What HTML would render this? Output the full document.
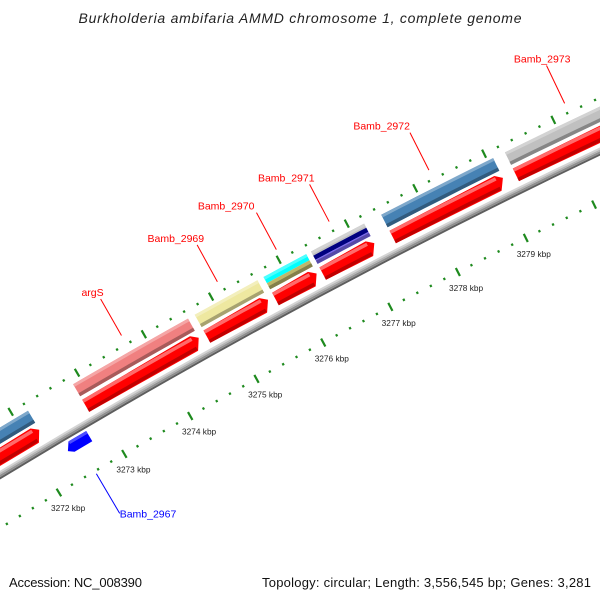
<!DOCTYPE html>
<html><head><meta charset="utf-8"><style>
html,body{margin:0;padding:0;background:#fff;width:600px;height:600px;overflow:hidden}
svg{display:block}
text{font-family:"Liberation Sans",sans-serif}
</style></head><body>
<svg id="chart" xmlns="http://www.w3.org/2000/svg" width="600" height="600" viewBox="0 0 600 600" overflow="hidden">
<rect width="600" height="600" fill="#fff"/>
<g id="plot"></g>
<text x="300" y="23" text-anchor="middle" font-size="14" font-style="italic" fill="#222" textLength="443">Burkholderia ambifaria AMMD chromosome 1, complete genome</text>
<text x="9" y="587" font-size="13" fill="#111" textLength="133">Accession: NC_008390</text>
<text x="591" y="587" font-size="13" text-anchor="end" fill="#111" textLength="329">Topology: circular; Length: 3,556,545 bp; Genes: 3,281</text>
</svg>
<script>
// ---- data ----
const tickKbp = [3272, 3273, 3274, 3275, 3276, 3277, 3278, 3279];
const tickLabels = ["3272 kbp","3273 kbp","3274 kbp","3275 kbp","3276 kbp","3277 kbp","3278 kbp","3279 kbp"];
const scaleRange = [3270, 3281];
const geneNames = ["Bamb_2966","Bamb_2967","argS","Bamb_2969","Bamb_2970","Bamb_2971","Bamb_2972","Bamb_2973"];
const geneStarts = [3270.3, 3272.38, 3272.88, 3274.7, 3275.72, 3276.42, 3277.45, 3279.25];
const geneEnds = [3272.2, 3272.72, 3274.6, 3275.63, 3276.35, 3277.2, 3279.08, 3281.2];
const geneStrands = [1, -1, 1, 1, 1, 1, 1, 1];
const geneLabelShown = [false, true, true, true, true, true, true, true];

// ---- styles (not data) ----
const geneColors = [["#4682b4"],["#0000ff"],["#f08080"],["#eee8a0"],["#00ffff","#bdb76b"],["#c0c0c0","#000080","#7b68ee"],["#4682b4"],["#c0c0c0"]];
const labelDx = [0, 0, 3, 7, -2, 5, 0, 24];

// ---- axis (circular map) ----
const CX = 3521, CY = 6287, R0 = 6750, K0 = 3275.5, A0 = -118.6, DEG_PER_KBP = 0.645;
function theta(k){ return (A0 + (k - K0) * DEG_PER_KBP) * Math.PI / 180; }
function pos(k, r){ const t = theta(k); return [CX + (R0 + r) * Math.cos(t), CY + (R0 + r) * Math.sin(t)]; }
const NS = "http://www.w3.org/2000/svg";
const plot = document.getElementById("plot");
function mk(tag, attrs, parent){ const e = document.createElementNS(NS, tag); for (const a in attrs) e.setAttribute(a, attrs[a]); (parent || plot).appendChild(e); return e; }
function shade(hex, f){ let n = parseInt(hex.slice(1), 16); let c = [(n>>16)&255, (n>>8)&255, n&255];
  c = c.map(v => f > 0 ? Math.round(v + (255 - v) * f) : Math.round(v * (1 + f))); return "rgb(" + c.join(",") + ")"; }
function pts(list){ return list.map(p => p[0].toFixed(1) + "," + p[1].toFixed(1)).join(" "); }
function band(k1, k2, r1, r2){ const a = [], n = 6; for (let i = 0; i <= n; i++) a.push(pos(k1 + (k2 - k1) * i / n, r2)); for (let i = n; i >= 0; i--) a.push(pos(k1 + (k2 - k1) * i / n, r1)); return a; }

// backbone
const bb = [["#5e5e5e", 42.5], ["#8f8f8f", 44.5], ["#b4b4b4", 46.5], ["#d4d4d4", 48]];
bb.forEach(b => {
  const c = mk("circle", {cx: CX, cy: CY, r: R0 + b[1], fill: "none", stroke: b[0], "stroke-width": 2});
  
  
});

// ticks (lower scale track at r=0, upper track at r=94)
const TRACKS = [0, 94];
const kMin = scaleRange[0], kMax = scaleRange[1];
TRACKS.forEach(tr => {
  for (let i = 0; i <= (kMax - kMin) * 5; i++) {
    const k = kMin + i * 0.2;
    const major = i % 5 === 0;
    const h = major ? 4.5 : 1.2;
    const p1 = pos(k, tr - h), p2 = pos(k, tr + h);
    const l = mk("line", {x1: p1[0], y1: p1[1], x2: p2[0], y2: p2[1], stroke: "#1e8a1e", "stroke-width": 2.2});
    
    
  }
});
tickKbp.forEach((k, i) => {
  const p = pos(k, -18);
  const t = mk("text", {x: p[0], y: p[1] + 3, "text-anchor": "middle", "font-size": "8.3", fill: "#222"});
  t.textContent = tickLabels[i];
  
  
});

// genes
geneNames.forEach((name, i) => {
  const k1 = geneStarts[i], k2 = geneEnds[i], cols = geneColors[i];
  const g = mk("g", {});
  
  
  if (geneStrands[i] > 0) {
    const r1 = 54, r2 = 68, hd = 0.09;
    const red = mk("polygon", {points: pts([pos(k1, r1), pos(k1, r2), pos(k2 - hd, r2 + 1.5), pos(k2, (r1 + r2) / 2 + 3), pos(k2 - hd, r1 - 1)]), fill: "#ff0000"}, g);
    
    
    const hi = mk("polygon", {points: pts(band(k1, k2 - hd, r2 - 3.5, r2)), fill: "#ff6a6a"}, g);
    
    
    const lo = mk("polygon", {points: pts(band(k1, k2 - hd, r1, r1 + 3.5)), fill: "#c00000"}, g);
    
    
    const gr1 = 72, gr2 = 86, n = cols.length, step = (gr2 - gr1) / n;
    cols.forEach((c, j) => {
      const top = gr2 - j * step, bot = top - step;
      const b = mk("polygon", {points: pts(band(k1, k2, bot, top)), fill: c}, g);
      
      
    });
    const ghi = mk("polygon", {points: pts(band(k1, k2, gr2 - 3, gr2)), fill: shade(cols[0], 0.3)}, g);
    
    
    const glo = mk("polygon", {points: pts(band(k1, k2, gr1, gr1 + 3.5)), fill: shade(cols[n - 1], -0.3)}, g);
    
    
  } else {
    const r1 = 27, r2 = 39, hd = 0.07;
    const b = mk("polygon", {points: pts([pos(k1, (r1 + r2) / 2 - 2), pos(k1 + hd, r2), pos(k2, r2), pos(k2, r1), pos(k1 + hd, r1)]), fill: cols[0]}, g);
    
    
    const hi = mk("polygon", {points: pts(band(k1 + hd, k2, r2 - 3, r2)), fill: shade(cols[0], 0.3)}, g);
    
    
  }
  if (geneLabelShown[i]) {
    const mid = (k1 + k2) / 2;
    const col = geneStrands[i] > 0 ? "#ff0000" : "#0000ff";
    let e, s, tx, ty, anchor;
    if (geneStrands[i] > 0) {
      e = pos(mid, 104); s = pos(mid, 146);
      tx = s[0] + labelDx[i]; ty = s[1] - 3; anchor = "end";
    } else {
      e = pos(mid, -3); s = pos(mid, -49);
      tx = s[0]; ty = s[1] + 4; anchor = "start";
    }
    const ln = mk("line", {x1: s[0], y1: s[1], x2: e[0], y2: e[1], stroke: col, "stroke-width": 1}, g);
    
    
    const t = mk("text", {x: tx, y: ty, "text-anchor": anchor, "font-size": "10.5", fill: col}, g);
    t.textContent = name;
    
    
  }
});
</script>
</body></html>
